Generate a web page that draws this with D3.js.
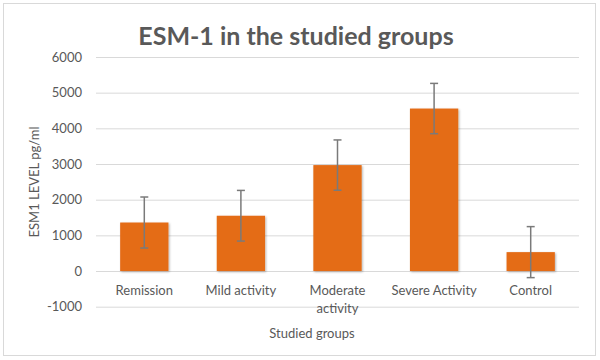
<!DOCTYPE html>
<html><head><meta charset="utf-8">
<script src="https://cdn.jsdelivr.net/npm/d3@7"></script>
<style>body{margin:0;background:#fff}svg{display:block}text{font-family:Lato,"Open Sans",sans-serif}</style>
</head><body><svg id="c" width="600" height="360"></svg>
<script>
const categories = ["Remission", "Mild activity", "Moderate activity", "Severe Activity", "Control"];
const values = [1360, 1550, 2970, 4555, 530];
const errors = [715, 710, 705, 705, 715];
const yTicks = [-1000, 0, 1000, 2000, 3000, 4000, 5000, 6000];

const svg = d3.select("#c");
const m = {l: 96, r: 579, t: 57, b: 306.7};
const x = d3.scaleBand().domain(categories).range([m.l, m.r]).paddingInner(0.5).paddingOuter(0.25);
const y = d3.scaleLinear().domain([-1000, 6000]).range([m.b, m.t]);

svg.append("rect").attr("x", 3.5).attr("y", 3.5).attr("width", 592).attr("height", 352)
  .attr("fill", "#fff").attr("stroke", "#d9d9d9");

const defs = svg.append("defs");
const f = defs.append("filter").attr("id", "sh").attr("x", "-20%").attr("y", "-20%").attr("width", "140%").attr("height", "140%");
f.append("feDropShadow").attr("dx", 1).attr("dy", 1).attr("stdDeviation", 1.2).attr("flood-color", "#000").attr("flood-opacity", 0.3);

// gridlines via axis
const yAxis = d3.axisLeft(y).tickValues(yTicks).tickSize(-(m.r - m.l)).tickPadding(14).tickFormat(d => String(d));
const ga = svg.append("g").attr("transform", `translate(${m.l},0)`).call(yAxis);
ga.select(".domain").remove();
ga.selectAll(".tick line").attr("stroke", "#d9d9d9").attr("stroke-width", 1);
ga.selectAll(".tick text").attr("fill", "#595959").style("font-size", "13px");

// bars
svg.append("g").selectAll("rect").data(categories).join("rect")
  .attr("x", d => x(d)).attr("width", x.bandwidth())
  .attr("y", (d, i) => y(Math.max(0, values[i])))
  .attr("height", (d, i) => Math.abs(y(values[i]) - y(0)))
  .attr("fill", "#e46c17").attr("filter", "url(#sh)");

// error bars
const eg = svg.append("g").attr("stroke", "#7a7a7a").attr("stroke-width", 1.5);
categories.forEach((c, i) => {
  const cx = x(c) + x.bandwidth() / 2;
  const hi = y(values[i] + errors[i]), lo = y(values[i] - errors[i]);
  eg.append("line").attr("x1", cx).attr("x2", cx).attr("y1", hi).attr("y2", lo);
  eg.append("line").attr("x1", cx - 4).attr("x2", cx + 4).attr("y1", hi).attr("y2", hi);
  eg.append("line").attr("x1", cx - 4).attr("x2", cx + 4).attr("y1", lo).attr("y2", lo);
});

// x labels
const xAxis = d3.axisBottom(x).tickSize(0).tickPadding(0);
const gx = svg.append("g").attr("transform", `translate(0,${y(0)})`).call(xAxis);
gx.select(".domain").remove();
gx.selectAll(".tick text").each(function(d) {
  const t = d3.select(this);
  t.text(null).attr("fill", "#595959").style("font-size", "13px").attr("y", null).attr("dy", null);
  const words = d === "Moderate activity" ? ["Moderate", "activity"] : [d];
  words.forEach((w, k) => t.append("tspan").attr("x", 0).attr("y", 24 + k * 18).text(w));
});

// titles
svg.append("text").attr("x", 296).attr("y", 45).attr("text-anchor", "middle")
  .attr("fill", "#595959").style("font-size", "25px").style("font-weight", "bold")
  .text("ESM-1 in the studied groups");
svg.append("text").attr("transform", "translate(39,182) rotate(-90)").attr("text-anchor", "middle")
  .attr("fill", "#595959").style("font-size", "13px").text("ESM1 LEVEL pg/ml");
svg.append("text").attr("x", 312).attr("y", 338).attr("text-anchor", "middle")
  .attr("fill", "#595959").style("font-size", "13px").text("Studied groups");
</script></body></html>
